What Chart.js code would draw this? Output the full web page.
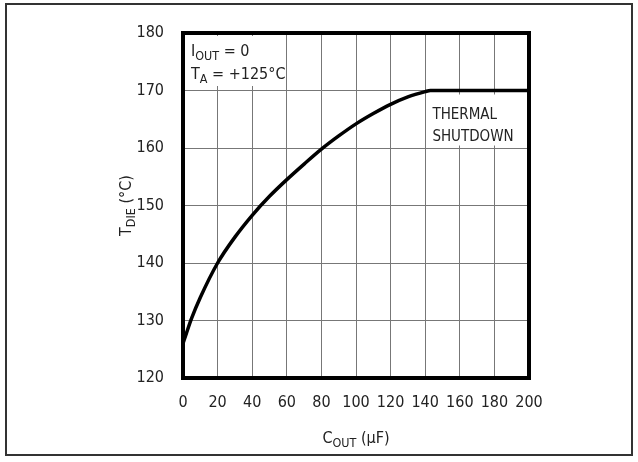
<!DOCTYPE html>
<html lang="en">
<head>
<meta charset="UTF-8">
<title>TDIE vs COUT</title>
<script src="https://cdn.jsdelivr.net/npm/chart.js@4.4.0/dist/chart.umd.min.js"></script>
<style>
  html, body { margin: 0; padding: 0; background: #fff; }
  #wrap { position: relative; width: 638px; height: 462px; }
</style>
</head>
<body>
<div id="wrap"><canvas id="chart" width="638" height="462"></canvas></div>
<script>
// values
const coutUF = [0, 2, 5, 10, 20, 30, 40, 50, 60, 70, 80, 90, 100, 110, 120, 130, 140, 143, 160, 180, 200];
const tDie   = [126, 127.8, 130.4, 134, 140, 144.5, 148.3, 151.6, 154.5, 157.2, 159.8, 162.1, 164.2, 166, 167.6, 168.9, 169.8, 170, 170, 170, 170];
const xTicks = [0, 20, 40, 60, 80, 100, 120, 140, 160, 180, 200];
const yTicks = [120, 130, 140, 150, 160, 170, 180];

const FONT = '"DejaVu Sans Condensed", "Liberation Sans", sans-serif';
const INK = '#222';

// text with a subscript part: [["T",false],["DIE",true],[" (°C)",false]]
function drawSub(ctx, parts, x, y, size, align) {
  let w = 0;
  parts.forEach(p => {
    ctx.font = (p[1] ? size * 0.78 : size) + 'px ' + FONT;
    w += ctx.measureText(p[0]).width;
  });
  let cx = align === 'center' ? x - w / 2 : x;
  ctx.textAlign = 'left';
  ctx.textBaseline = 'alphabetic';
  parts.forEach(p => {
    ctx.font = (p[1] ? size * 0.78 : size) + 'px ' + FONT;
    ctx.fillText(p[0], cx, y + (p[1] ? size * 0.22 : 0));
    cx += ctx.measureText(p[0]).width;
  });
  return w;
}

const decor = {
  id: 'decor',
  afterDatasetsDraw(chart) {
    const ctx = chart.ctx;
    const a = chart.chartArea;
    const xs = chart.scales.x, ys = chart.scales.y;
    ctx.save();

    // annotation top left
    ctx.fillStyle = '#fff';
    ctx.fillRect(a.left + 3, a.top + 3, 90, 50);
    ctx.fillStyle = INK;
    drawSub(ctx, [['I', false], ['OUT', true], [' = 0', false]], a.left + 8, a.top + 23, 16);
    drawSub(ctx, [['T', false], ['A', true], [' = +125°C', false]], a.left + 8, a.top + 46, 16);

    // thermal shutdown label
    const tx = xs.getPixelForValue(143);
    const ty = ys.getPixelForValue(170);
    ctx.fillStyle = '#fff';
    ctx.fillRect(tx - 4, ty + 4, 88, 51);
    ctx.fillStyle = INK;
    ctx.font = '15px ' + FONT;
    ctx.textAlign = 'left';
    ctx.textBaseline = 'alphabetic';
    ctx.fillText('THERMAL', tx + 2, ty + 28);
    ctx.fillText('SHUTDOWN', tx + 2, ty + 50);

    // axis titles
    drawSub(ctx, [['C', false], ['OUT', true], [' (µF)', false]], (a.left + a.right) / 2, 443, 16, 'center');
    ctx.translate(131, (a.top + a.bottom) / 2);
    ctx.rotate(-Math.PI / 2);
    drawSub(ctx, [['T', false], ['DIE', true], [' (°C)', false]], 0, 0, 16, 'center');
    ctx.restore();

    // plot frame and outer frame
    ctx.save();
    ctx.strokeStyle = '#000';
    ctx.lineWidth = 4;
    ctx.strokeRect(a.left, a.top, a.right - a.left, a.bottom - a.top);
    ctx.strokeStyle = '#333';
    ctx.lineWidth = 2;
    ctx.strokeRect(6, 4, 626, 451);
    ctx.restore();
  }
};

new Chart(document.getElementById('chart'), {
  type: 'line',
  data: {
    datasets: [{
      data: coutUF.map((c, i) => ({ x: c, y: tDie[i] })),
      borderColor: '#000',
      borderWidth: 3.5,
      pointRadius: 0,
      fill: false,
      cubicInterpolationMode: 'monotone'
    }]
  },
  options: {
    responsive: false,
    animation: false,
    layout: { padding: { left: 0, right: 109, top: 33, bottom: 0 } },
    plugins: { legend: { display: false }, tooltip: { enabled: false } },
    scales: {
      x: {
        type: 'linear', min: 0, max: 200,
        afterBuildTicks: s => { s.ticks = xTicks.map(v => ({ value: v })); },
        afterFit: s => { s.height = 84; },
        grid: { color: '#777', lineWidth: 1, drawTicks: false },
        border: { display: false },
        ticks: { padding: 15, color: INK, maxRotation: 0, minRotation: 0, autoSkip: false, font: { family: FONT, size: 16 } }
      },
      y: {
        min: 120, max: 180,
        afterBuildTicks: s => { s.ticks = yTicks.map(v => ({ value: v })); },
        afterFit: s => { s.width = 183; },
        grid: { color: '#777', lineWidth: 1, drawTicks: false },
        border: { display: false },
        ticks: { padding: 19, color: INK, font: { family: FONT, size: 16 } }
      }
    }
  },
  plugins: [decor]
});
</script>
</body>
</html>
